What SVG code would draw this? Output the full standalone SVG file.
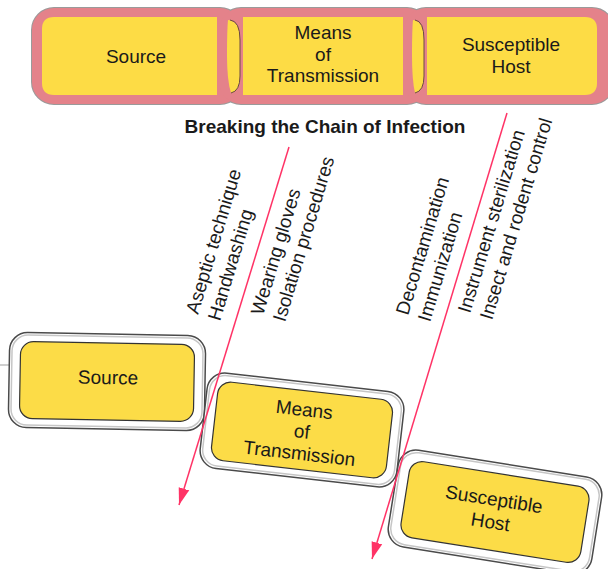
<svg xmlns="http://www.w3.org/2000/svg" width="608" height="569" viewBox="0 0 608 569">
<defs>
<style>
.lk{fill:#E4828A;stroke:#9a9a9a;stroke-width:2}
.lkf{fill:#E4828A}
.yt{fill:#FDDC45}
.cr{fill:none;stroke:#6a4b40;stroke-width:1}
.t{font-family:"Liberation Sans",Arial,Helvetica,sans-serif;font-size:19px;fill:#1a1a1a}
.c{text-anchor:middle}
.b{font-weight:bold}
.o1{fill:#ffffff;stroke:#4a4a4a;stroke-width:1.5}
.o2{fill:none;stroke:#c6c6c6;stroke-width:1.5}
.in{fill:#FCDC47;stroke:#333333;stroke-width:1.2}
.ar{fill:none;stroke:#FF3366;stroke-width:1.5;marker-end:url(#ah)}
</style>
<marker id="ah" markerUnits="userSpaceOnUse" markerWidth="18" markerHeight="12" refX="17" refY="6" orient="auto">
<path d="M0,0.5 L17,6 L0,11.5 Z" fill="#FF3366"/>
</marker>
</defs>
<rect width="608" height="569" fill="#ffffff"/>

<g id="top-chain">
<rect class="lk" x="32" y="8" width="210" height="96" rx="22"/>
<rect class="lk" x="219" y="8" width="210" height="96" rx="22"/>
<rect class="lk" x="404" y="8" width="210" height="96" rx="22"/>
<rect class="lkf" x="32" y="8" width="210" height="96" rx="22"/>
<rect class="lkf" x="219" y="8" width="210" height="96" rx="22"/>
<rect class="lkf" x="404" y="8" width="210" height="96" rx="22"/>
<g id="top-source">
<path class="yt" d="M217,17 L217,95 L54,95 Q42,95 42,83 L42,29 Q42,17 54,17 Z"/>
<text class="t c" x="136" y="63">Source</text>
</g>
<g id="top-means">
<path class="yt" d="M228,20 Q240,21 240,40 L240,76 Q240,91 231,93 Q227,80 227,56 Q227,30 228,20 Z"/>
<path class="cr" d="M230,20 Q240,21 240,40 L240,76 Q240,91 231,93"/>
<rect class="yt" x="243" y="17" width="160" height="78"/>
<text class="t c" x="323" y="39">Means</text>
<text class="t c" x="323" y="60.5">of</text>
<text class="t c" x="323" y="82">Transmission</text>
</g>
<g id="top-host">
<path class="yt" d="M413,20 Q424,21 424,40 L424,76 Q424,91 415,93 Q412,80 412,56 Q412,30 413,20 Z"/>
<path class="cr" d="M415,20 Q424,21 424,40 L424,76 Q424,91 415,93"/>
<path class="yt" d="M427,17 L585,17 Q597,17 597,29 L597,83 Q597,95 585,95 L427,95 Z"/>
<text class="t c" x="511" y="51">Susceptible</text>
<text class="t c" x="511" y="73">Host</text>
</g>
</g>

<text id="title" class="t c b" x="325" y="133">Breaking the Chain of Infection</text>

<g id="labels" class="t">
<g transform="translate(198,315) rotate(-73.2)">
<text x="0" y="0">Aseptic technique</text>
<text x="0" y="23">Handwashing</text>
</g>
<g transform="translate(263,316) rotate(-73.2)">
<text x="0" y="0">Wearing gloves</text>
<text x="0" y="23">Isolation procedures</text>
</g>
<g transform="translate(408,316) rotate(-73.2)">
<text x="0" y="0">Decontamination</text>
<text x="0" y="23">Immunization</text>
</g>
<g transform="translate(470,314) rotate(-73.2)">
<text x="0" y="0">Instrument sterilization</text>
<text x="0" y="23">Insect and rodent control</text>
</g>
</g>

<line x1="0" y1="365" x2="9" y2="365" stroke="#cfcfcf" stroke-width="2"/>

<g id="source" transform="translate(107,381.5) rotate(1)">
<rect class="o1" x="-98" y="-47.5" width="196" height="95" rx="18"/>
<rect class="o2" x="-95.5" y="-45" width="191" height="90" rx="16"/>
<rect class="in" x="-87" y="-38.5" width="174" height="77" rx="13"/>
<text class="t c" x="1" y="2.5">Source</text>
</g>

<g id="means" transform="translate(302,430) rotate(6.5)">
<rect class="o1" x="-99" y="-48" width="198" height="96" rx="18"/>
<rect class="o2" x="-96.5" y="-45.5" width="193" height="91" rx="16"/>
<rect class="in" x="-88" y="-39.5" width="176" height="79" rx="13"/>
<text class="t c" x="0" y="-14">Means</text>
<text class="t c" x="0" y="8">of</text>
<text class="t c" x="0" y="30">Transmission</text>
</g>

<g id="host" transform="translate(495,512) rotate(9)">
<rect class="o1" x="-103" y="-49" width="206" height="98" rx="18"/>
<rect class="o2" x="-100.5" y="-46.5" width="201" height="93" rx="16"/>
<rect class="in" x="-91" y="-38.5" width="182" height="77" rx="13"/>
<text class="t c" x="-3" y="-6">Susceptible</text>
<text class="t c" x="-3" y="17">Host</text>
</g>

<g id="connectors">
<line class="ar" x1="289" y1="147" x2="179" y2="505"/>
<line class="ar" x1="507" y1="113" x2="372" y2="559"/>
</g>
</svg>
